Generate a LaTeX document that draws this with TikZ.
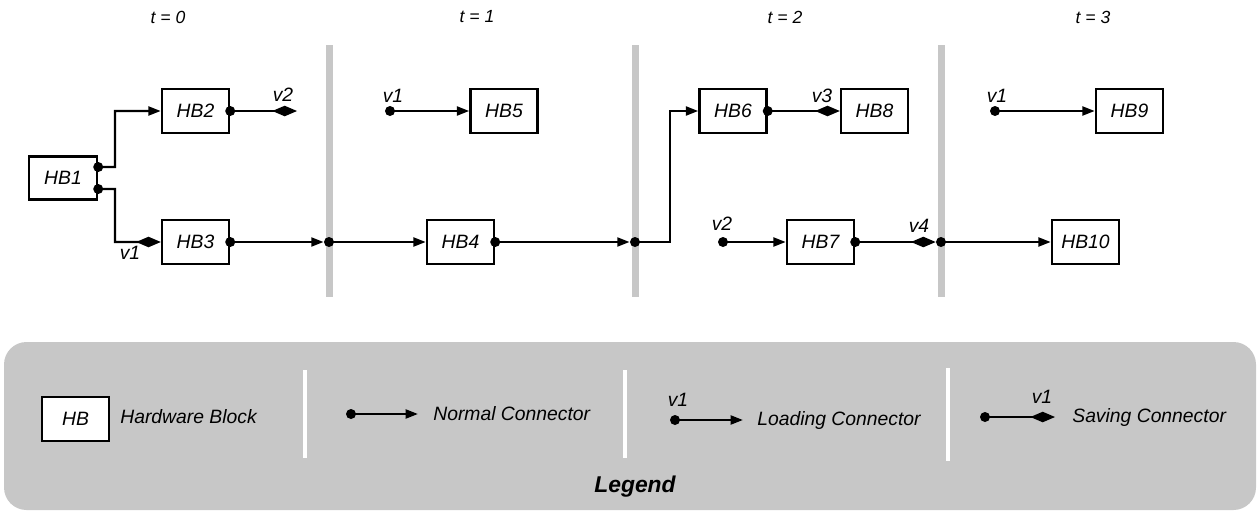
\documentclass[tikz,border=0pt]{standalone}
\usepackage{fontspec}
\setmainfont{Liberation Sans}
\usetikzlibrary{arrows.meta}
\begin{document}
\begin{tikzpicture}[x=0.02cm,y=-0.02cm,
  font=\itshape\fontsize{11}{13}\selectfont,
  hb/.style={draw,line width=1.4pt,fill=white,minimum width=1.34cm,minimum height=0.88cm,inner sep=0pt},
  dot/.style={circle,fill=black,inner sep=0pt,minimum size=0.2cm},
  conn/.style={line width=1.4pt},
  tonorm/.style={-{Triangle[length=7pt,width=5pt]}},
  tosave/.style={-{Diamond[length=14pt,width=6pt]}},
  lbl/.style={inner sep=0pt},
  stamp/.style={inner sep=0pt,font=\itshape\fontsize{10}{12}\selectfont},
  timebar/.style={fill=black!22,draw=none},
  gapbar/.style={fill=white,draw=none},
]
\useasboundingbox (0,0) rectangle (1258,511);

% time step headings
\node[stamp] (t0) at (168,17) {t = 0};
\node[stamp] (t1) at (477,17) {t = 1};
\node[stamp] (t2) at (785,17) {t = 2};
\node[stamp] (t3) at (1093,17) {t = 3};

% reconfiguration boundaries
\fill[timebar] (325.5,45) rectangle (332.5,297);
\fill[timebar] (631.5,45) rectangle (638.5,297);
\fill[timebar] (937.5,45) rectangle (944.5,297);

% hardware blocks
\node[hb,minimum width=1.36cm,minimum height=0.86cm] (HB1) at (63,178) {HB1};
\node[hb] (HB2) at (195.5,111) {HB2};
\node[hb] (HB3) at (195.5,242) {HB3};
\node[hb] (HB5) at (504,111) {HB5};
\node[hb] (HB4) at (460.5,242) {HB4};
\node[hb] (HB6) at (733,111) {HB6};
\node[hb] (HB8) at (874.5,111) {HB8};
\node[hb] (HB7) at (820.5,242) {HB7};
\node[hb] (HB9) at (1129.5,111) {HB9};
\node[hb] (HB10) at (1085.5,242) {HB10};

% ports and sources
\node[dot] (p1) at ([yshift=0.22cm]HB1.east) {};
\node[dot] (p2) at ([yshift=-0.22cm]HB1.east) {};
\node[dot] (o2) at (HB2.east) {};
\node[dot] (o3) at (HB3.east) {};
\node[dot] (o4) at (HB4.east) {};
\node[dot] (o6) at (HB6.east) {};
\node[dot] (o7) at (HB7.east) {};
\node[dot] (d1) at (329,242) {};
\node[dot] (d2) at (635,242) {};
\node[dot] (d3) at (941,242) {};
\node[dot] (s5) at (390,111) {};
\node[dot] (s7) at (723,242) {};
\node[dot] (s9) at (995,111) {};
\coordinate (j1) at (115,167);
\coordinate (j2) at (115,189);
\coordinate (j6) at (670,242);
\coordinate (e2) at (297,111);

% connectors
\draw[conn,tonorm] (p1.center) -- (j1) |- (HB2.west);
\draw[conn,tosave] (p2.center) -- (j2) |- (HB3.west);
\draw[conn,tosave] (o2.center) -- (e2);
\draw[conn,tonorm] (o3.center) -- (d1);
\draw[conn,tonorm] (d1.center) -- (HB4.west);
\draw[conn,tonorm] (s5.center) -- (HB5.west);
\draw[conn,tonorm] (o4.center) -- (d2);
\draw[conn,tonorm] (d2.center) -- (j6) |- (HB6.west);
\draw[conn,tosave] (o6.center) -- (HB8.west);
\draw[conn,tonorm] (s7.center) -- (HB7.west);
\draw[conn,tosave] (o7.center) -- (d3);
\draw[conn,tonorm] (d3.center) -- (HB10.west);
\draw[conn,tonorm] (s9.center) -- (HB9.west);

% variable names
\node[lbl] (lv1a) at (130,253) {v1};
\node[lbl] (lv2a) at (283,95) {v2};
\node[lbl] (lv1b) at (393,96) {v1};
\node[lbl] (lv3) at (822,96) {v3};
\node[lbl] (lv2b) at (722,224) {v2};
\node[lbl] (lv4) at (919,226) {v4};
\node[lbl] (lv1c) at (997,96) {v1};

% legend
\fill[black!22,rounded corners=0.45cm] (4,342) rectangle (1256,510);
\fill[gapbar] (303,370) rectangle (307,458);
\fill[gapbar] (623,370) rectangle (627,458);
\fill[gapbar] (946,368) rectangle (950,461);

\node[hb] (kHB) at (75.5,419) {HB};
\node[lbl,anchor=west] (kHBt) at (120,417) {Hardware Block};

\node[dot] (kn) at (351,414) {};
\coordinate (kne) at (418,414);
\draw[conn,tonorm] (kn.center) -- (kne);
\node[lbl,anchor=west] (knt) at (433,414) {Normal Connector};

\node[dot] (kl) at (675,420) {};
\coordinate (kle) at (743,420);
\draw[conn,tonorm] (kl.center) -- (kle);
\node[lbl] (klv) at (678,400) {v1};
\node[lbl,anchor=west] (klt) at (757,420) {Loading Connector};

\node[dot] (ks) at (985,417) {};
\coordinate (kse) at (1055,417);
\draw[conn,tosave] (ks.center) -- (kse);
\node[lbl] (ksv) at (1042,397) {v1};
\node[lbl,anchor=west] (kst) at (1072,417) {Saving Connector};

\node[lbl,font=\bfseries\itshape\fontsize{13}{15}\selectfont] (kcap) at (635,487) {Legend};
\end{tikzpicture}
\end{document}
